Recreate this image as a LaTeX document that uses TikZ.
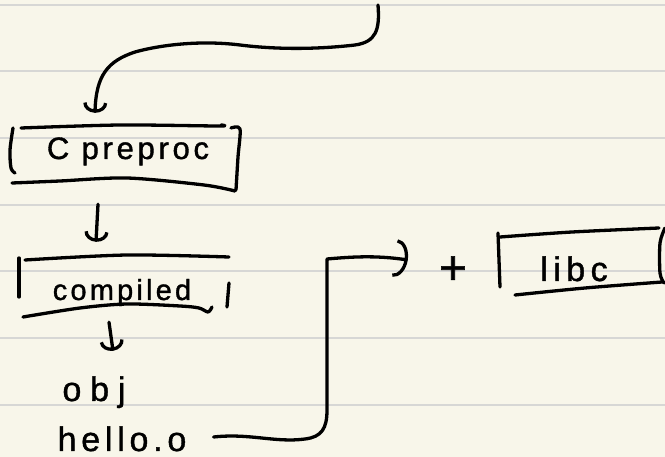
\documentclass[tikz,border=0pt]{standalone}
\usepackage{fontspec}
\usepackage{tikz}
\usetikzlibrary{arrows.meta}
\usetikzlibrary{calc}
\newfontfamily\handfont{Liberation Sans}[FakeBold=1.2]
\definecolor{paper}{HTML}{F8F6EA}
\definecolor{ruling}{HTML}{D7D7D5}
\tikzset{pen/.style={line width=3.3pt,line cap=round,line join=round},
	hook/.style={-{Arc Barb[width=24pt,length=10pt]}},
	bighook/.style={-{Arc Barb[width=38pt,length=13pt]}},
	word/.style={font=\handfont\fontsize{#1}{#1}\selectfont,inner sep=0pt,
		text height=22pt,text depth=6pt},
	word/.default=30}
\newcommand{\spaced}[2]{{\addfontfeature{LetterSpace=#1}#2}}

\begin{document}
\begin{tikzpicture}[x=1pt,y=-1pt]
		\fill[paper] (0,0) rectangle (665,457);
		\useasboundingbox (0,0) rectangle (665,457);
		\foreach \y in {5,71,138,205,271,338,405}
			\draw[ruling,line width=2pt] (0,\y) -- (665,\y);
		% the words
		\node[word=31] (preproc) at (128,151) {\spaced{12}{C preproc}};
		\node[word=29] (compiled) at (122,292) {\spaced{11}{compiled}};
		\node[word=34] (obj) at (94,393) {\spaced{26}{obj}};
		\node[word=34] (hello) at (122,443) {\spaced{14}{hello.o}};
		\node[word=48] (plus) at (453,276) {+};
		\node[word=34] (libc) at (574,273) {\spaced{16}{libc}};
		\coordinate (src) at (378,5);
		\begin{scope}[pen]
			% hand drawn boxes
			\draw plot[smooth] coordinates {(21,128) (120,125) (218,126) (221,125)};
			\draw plot[smooth] coordinates {(13,128) (10,150) (11,168) (15,173)};
			\draw plot[smooth] coordinates {(12,183) (60,181) (127,178) (204,185) (235,191)};
			\draw plot[smooth] coordinates {(231,128) (240,129) (238,157) (236,190)};
			\draw plot[smooth] coordinates {(25,260) (127,255) (229,257)};
			\draw (19,258) -- (19,297);
			\draw plot[smooth] coordinates {(23,317) (80,308) (127,304) (180,306) (199,308) (208,312) (212,307)};
			\draw plot[smooth] coordinates {(229,283) (227,307)};
			\draw plot[smooth] coordinates {(498,233) (500,287)};
			\draw plot[smooth] coordinates {(500,237) (572,232) (659,228)};
			\draw plot[smooth] coordinates {(515,295) (585,288) (662,282)};
			\draw plot[smooth] coordinates {(665,228) (660,243) (660,273) (664,283)};
		\end{scope}
		\begin{scope}[pen,hook]
			\draw (src) .. controls (380,30) and (376,42) .. (355,45)
				.. controls (320,49) and (280,50) .. (240,45)
				.. controls (200,40) and (160,45) .. (135,52)
				.. controls (108,61) and (96,75) .. ($(preproc.north)+(-33,-24)$);
			\draw ($(preproc.south)+(-30,39)$) -- ($(compiled.north)+(-26,-36)$);
			\draw ($(compiled.south)+(-13,16)$) -- ($(obj.north)+(19,-28)$);
			\draw[bighook] ($(hello.east)+(27,-6)$) .. controls (250,433) and (275,443) .. (305,439)
				.. controls (322,437) and (327,428) .. (327,410) -- (327,259)
				.. controls (350,257) and (375,255) .. ($(plus.west)+(-31,-16)$);
		\end{scope}
	\end{tikzpicture}
\end{document}
